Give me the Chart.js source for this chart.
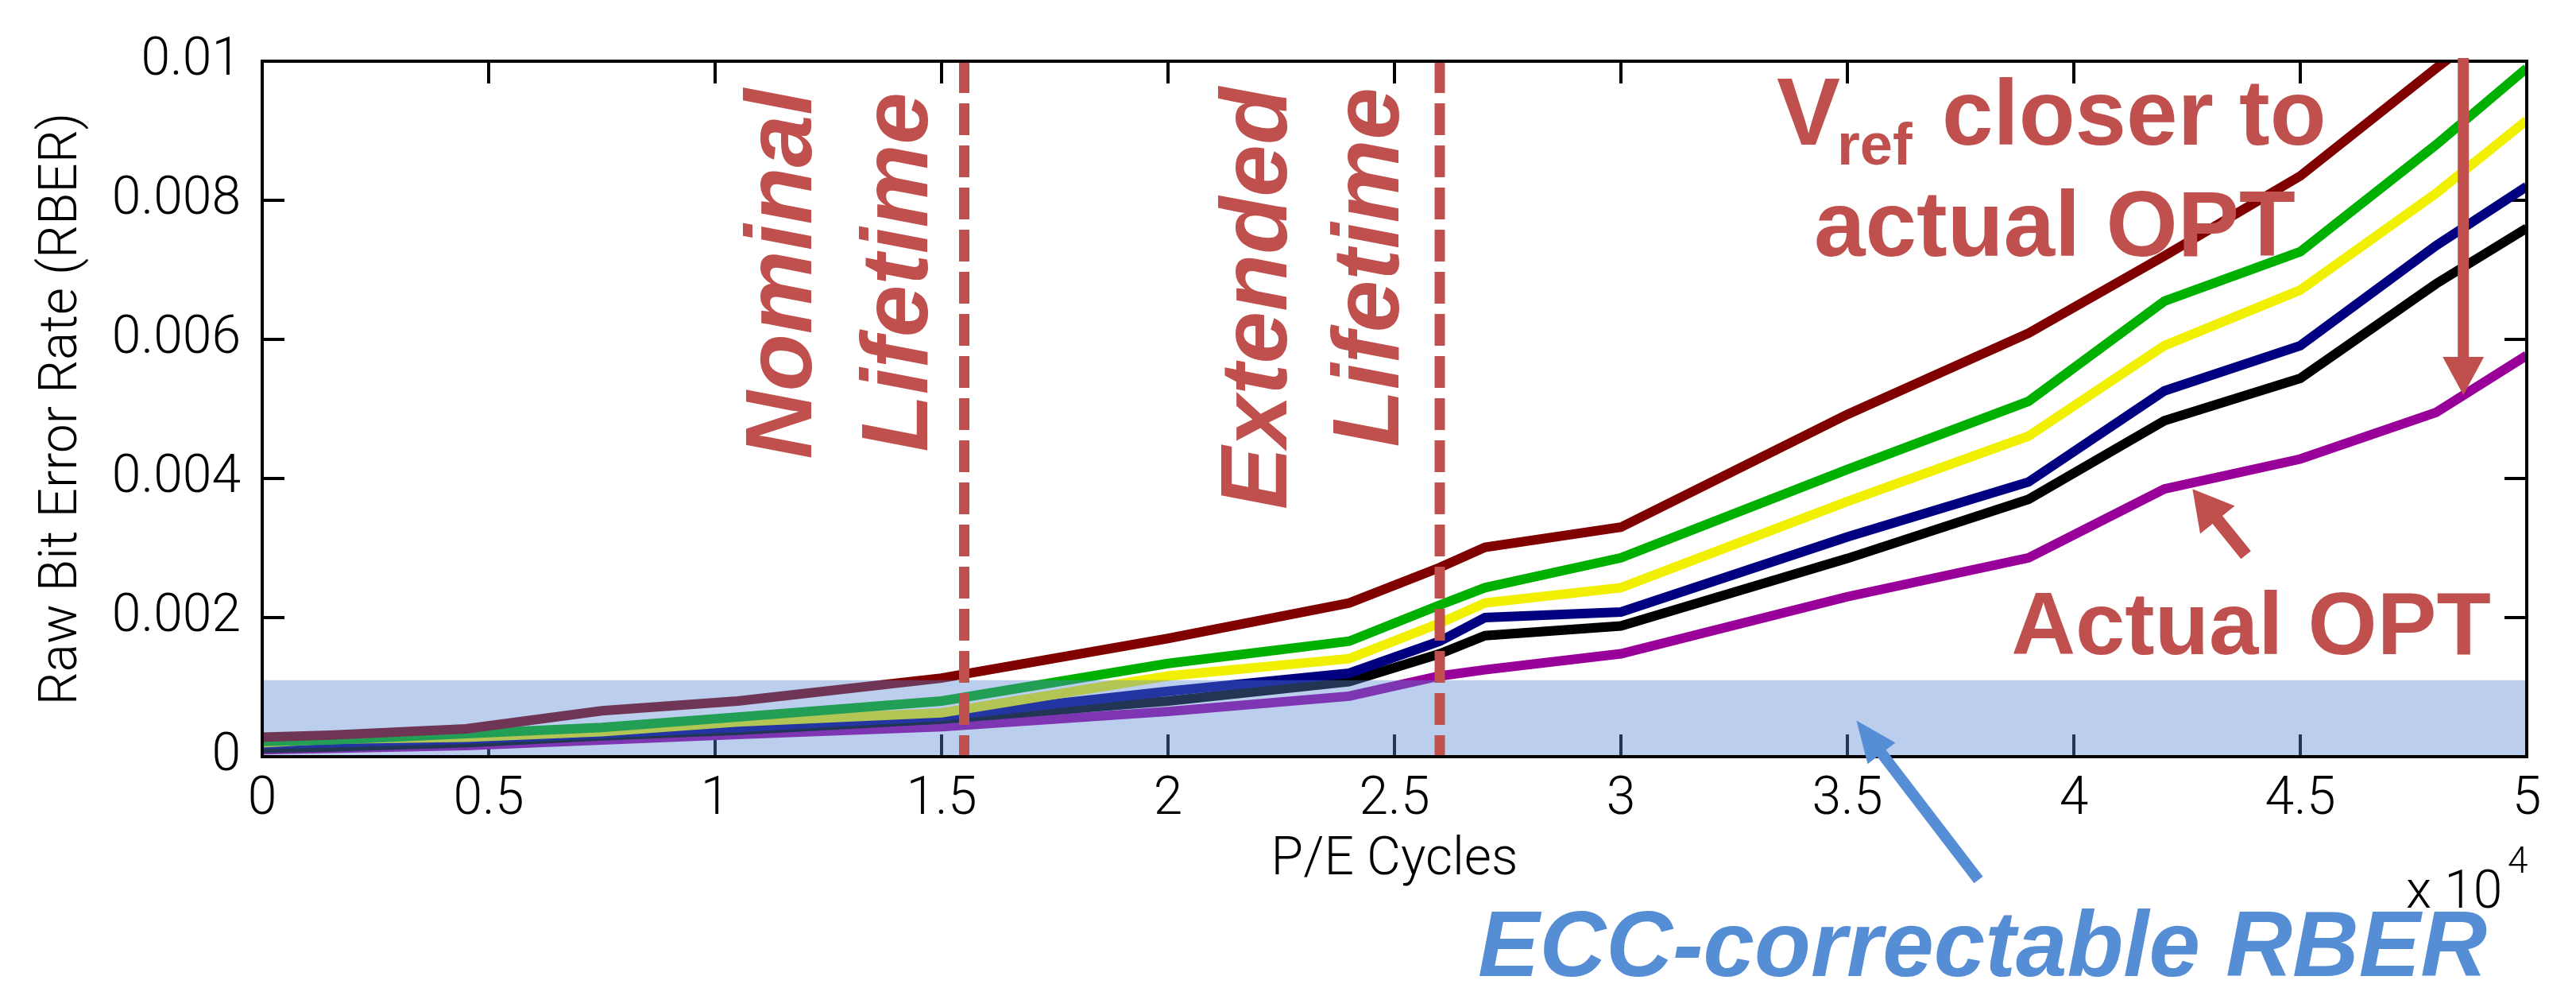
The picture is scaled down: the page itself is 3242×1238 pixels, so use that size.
<!DOCTYPE html>
<html>
<head>
<meta charset="utf-8">
<script src="https://cdn.jsdelivr.net/npm/chart.js@4.4.1/dist/chart.umd.min.js"></script>
<style>
html, body { margin: 0; padding: 0; background: #fff; }
canvas { display: block; }
</style>
</head>
<body>
<canvas id="myChart" width="3242" height="1238"></canvas>
<script>
// P/E cycles, in units of 10^4
var cycles = [0, 0.15, 0.45, 0.75, 1.05, 1.5, 2.0, 2.4, 2.6, 2.7, 3.0, 3.5, 3.9, 4.2, 4.5, 4.8, 5.0];

// raw bit error rate for each read reference voltage, furthest from OPT first
var rberMaroon = [0.00028, 0.00031, 0.00040, 0.00066, 0.00080, 0.00113, 0.00170, 0.00221, 0.00272, 0.00301, 0.00330, 0.00492, 0.00609, 0.00720, 0.00835, 0.00990, 0.01090];
var rberGreen  = [0.00022, 0.00024, 0.00033, 0.00042, 0.00057, 0.00080, 0.00134, 0.00166, 0.00218, 0.00243, 0.00286, 0.00413, 0.00511, 0.00655, 0.00726, 0.00880, 0.00990];
var rberYellow = [0.00020, 0.00025, 0.00028, 0.00036, 0.00050, 0.00063, 0.00116, 0.00141, 0.00192, 0.00221, 0.00243, 0.00367, 0.00461, 0.00591, 0.00671, 0.00810, 0.00915];
var rberNavy   = [0.00018, 0.00020, 0.00025, 0.00033, 0.00042, 0.00058, 0.00094, 0.00120, 0.00166, 0.00200, 0.00208, 0.00316, 0.00395, 0.00526, 0.00591, 0.00735, 0.00820];
var rberBlack  = [0.00012, 0.00014, 0.00020, 0.00030, 0.00038, 0.00054, 0.00080, 0.00108, 0.00148, 0.00174, 0.00188, 0.00285, 0.00370, 0.00483, 0.00544, 0.00680, 0.00760];
var rberPurple = [0.00010, 0.00012, 0.00016, 0.00024, 0.00032, 0.00043, 0.00065, 0.00087, 0.00116, 0.00125, 0.00148, 0.00230, 0.00286, 0.00385, 0.00428, 0.00495, 0.00577];

var xTickLabels = ['0', '0.5', '1', '1.5', '2', '2.5', '3', '3.5', '4', '4.5', '5'];
var yTickLabels = ['0', '0.002', '0.004', '0.006', '0.008', '0.01'];

var eccLimit = 0.0011;        // top of the ECC-correctable band
var nominalLife = 1.55;       // x 10^4 P/E cycles
var extendedLife = 2.6;

var red = '#C0504D';
var blue = '#558ED5';
var tickFont = 'Roboto';

function toPoints(ys) {
    var pts = [];
    for (var i = 0; i < cycles.length; i++) pts.push({ x: cycles[i], y: ys[i] });
    return pts;
}

function line(data, color) {
    return {
        data: toPoints(data),
        borderColor: color,
        borderWidth: 12,
        pointRadius: 0,
        tension: 0,
        fill: false,
        clip: 0
    };
}

function arrow(ctx, x1, y1, x2, y2, w, headW, headL, color) {
    var ang = Math.atan2(y2 - y1, x2 - x1);
    var len = Math.sqrt((x2 - x1) * (x2 - x1) + (y2 - y1) * (y2 - y1));
    ctx.save();
    ctx.translate(x1, y1);
    ctx.rotate(ang);
    ctx.fillStyle = color;
    ctx.beginPath();
    ctx.moveTo(0, -w / 2);
    ctx.lineTo(len - headL, -w / 2);
    ctx.lineTo(len - headL, -headW / 2);
    ctx.lineTo(len, 0);
    ctx.lineTo(len - headL, headW / 2);
    ctx.lineTo(len - headL, w / 2);
    ctx.lineTo(0, w / 2);
    ctx.closePath();
    ctx.fill();
    ctx.restore();
}

function vtext(ctx, str, baseX, endY) {
    ctx.save();
    ctx.translate(baseX, endY);
    ctx.rotate(-Math.PI / 2);
    ctx.textAlign = 'right';
    ctx.textBaseline = 'alphabetic';
    ctx.fillText(str, 0, 0);
    ctx.restore();
}

var decorations = {
    id: 'decorations',
    beforeDatasetsDraw: function(chart) {
        // matlab style inward ticks on all four sides
        var ctx = chart.ctx, a = chart.chartArea, xs = chart.scales.x, ys = chart.scales.y;
        ctx.save();
        ctx.strokeStyle = '#000';
        ctx.lineWidth = 4;
        ctx.beginPath();
        xs.ticks.forEach(function(t) {
            var px = xs.getPixelForValue(t.value);
            ctx.moveTo(px, a.bottom); ctx.lineTo(px, a.bottom - 28);
            ctx.moveTo(px, a.top); ctx.lineTo(px, a.top + 28);
        });
        ys.ticks.forEach(function(t) {
            var py = ys.getPixelForValue(t.value);
            ctx.moveTo(a.left, py); ctx.lineTo(a.left + 28, py);
            ctx.moveTo(a.right, py); ctx.lineTo(a.right - 28, py);
        });
        ctx.stroke();
        ctx.restore();
    },
    afterDatasetsDraw: function(chart) {
        var ctx = chart.ctx, a = chart.chartArea, xs = chart.scales.x, ys = chart.scales.y;
        ctx.save();

        // ECC-correctable region
        var bandTop = ys.getPixelForValue(eccLimit);
        ctx.fillStyle = 'rgba(85,132,212,0.4)';
        ctx.fillRect(a.left, bandTop, a.right - a.left, a.bottom - bandTop);

        // lifetime markers
        ctx.strokeStyle = red;
        ctx.lineWidth = 13;
        ctx.setLineDash([40, 13]);
        [nominalLife, extendedLife].forEach(function(v) {
            var px = xs.getPixelForValue(v);
            ctx.beginPath();
            ctx.moveTo(px, a.top);
            ctx.lineTo(px, a.bottom);
            ctx.stroke();
        });
        ctx.setLineDash([]);

        // box
        ctx.strokeStyle = '#000';
        ctx.lineWidth = 4;
        ctx.strokeRect(a.left, a.top, a.right - a.left, a.bottom - a.top);

        // arrows
        arrow(ctx, xs.getPixelForValue(4.86), a.top - 4, xs.getPixelForValue(4.86), ys.getPixelForValue(0.0052), 14, 52, 48, red);
        arrow(ctx, xs.getPixelForValue(4.38), ys.getPixelForValue(0.0029), xs.getPixelForValue(4.262), ys.getPixelForValue(0.00385), 16, 56, 50, red);
        arrow(ctx, 2490, 1107, xs.getPixelForValue(3.52), ys.getPixelForValue(0.00052), 14, 44, 52, blue);

        // text labels
        ctx.fillStyle = red;
        ctx.font = 'italic bold 118px "Liberation Sans", Arial, sans-serif';
        vtext(ctx, 'Nominal', 1021, 112);
        vtext(ctx, 'Lifetime', 1167, 116);
        vtext(ctx, 'Extended', 1619, 110);
        vtext(ctx, 'Lifetime', 1760, 110);

        ctx.textBaseline = 'alphabetic';
        ctx.textAlign = 'left';
        ctx.font = 'bold 120px "Liberation Sans", Arial, sans-serif';
        ctx.fillText('V', 2236, 182);
        ctx.font = 'bold 74px "Liberation Sans", Arial, sans-serif';
        ctx.fillText('ref', 2312, 207);
        ctx.font = 'bold 116px "Liberation Sans", Arial, sans-serif';
        ctx.fillText('closer to', 2444, 182);
        ctx.textAlign = 'center';
        ctx.fillText('actual OPT', 2586, 322);
        ctx.font = 'bold 112px "Liberation Sans", Arial, sans-serif';
        ctx.fillText('Actual OPT', 2833, 823);

        ctx.fillStyle = blue;
        ctx.font = 'italic bold 116px "Liberation Sans", Arial, sans-serif';
        ctx.fillText('ECC-correctable RBER', 2495, 1228);

        // axis multiplier
        ctx.fillStyle = '#000';
        ctx.textAlign = 'left';
        ctx.font = '300 66px ' + tickFont + ', sans-serif';
        ctx.fillText('x 10', 3028, 1142);
        ctx.font = '300 46px ' + tickFont + ', sans-serif';
        ctx.fillText('4', 3156, 1098);

        ctx.restore();
    }
};

var ctx = document.getElementById('myChart');
var chart = new Chart(ctx, {
    type: 'line',
    data: {
        datasets: [
            line(rberMaroon, '#800000'),
            line(rberGreen, '#00B000'),
            line(rberYellow, '#F0F000'),
            line(rberNavy, '#000080'),
            line(rberBlack, '#000000'),
            line(rberPurple, '#990099')
        ]
    },
    options: {
        responsive: false,
        animation: false,
        devicePixelRatio: 1,
        layout: { padding: { top: 77, right: 62, left: 0, bottom: 0 } },
        plugins: {
            legend: { display: false },
            tooltip: { enabled: false }
        },
        scales: {
            x: {
                type: 'linear',
                min: 0,
                max: 5,
                grid: { display: false },
                border: { display: false },
                afterFit: function(scale) { scale.height = 286; },
                ticks: {
                    stepSize: 0.5,
                    padding: 8,
                    color: '#000',
                    font: { family: tickFont, size: 66, weight: '300' },
                    callback: function(value, index) { return xTickLabels[index]; }
                },
                title: {
                    display: true,
                    text: 'P/E Cycles',
                    color: '#000',
                    font: { family: tickFont, size: 66, weight: '300' },
                    padding: { top: 0, bottom: 115 }
                }
            },
            y: {
                min: 0,
                max: 0.01,
                grid: { display: false },
                border: { display: false },
                afterFit: function(scale) { scale.width = 330; },
                ticks: {
                    stepSize: 0.002,
                    padding: 19,
                    color: '#000',
                    font: { family: tickFont, size: 66, weight: '300' },
                    callback: function(value, index) { return yTickLabels[index]; }
                },
                title: {
                    display: true,
                    text: 'Raw Bit Error Rate (RBER)',
                    color: '#000',
                    font: { family: tickFont, size: 66, weight: '300' },
                    padding: { top: 40, bottom: 0 }
                }
            }
        }
    },
    plugins: [decorations]
});
</script>
</body>
</html>
